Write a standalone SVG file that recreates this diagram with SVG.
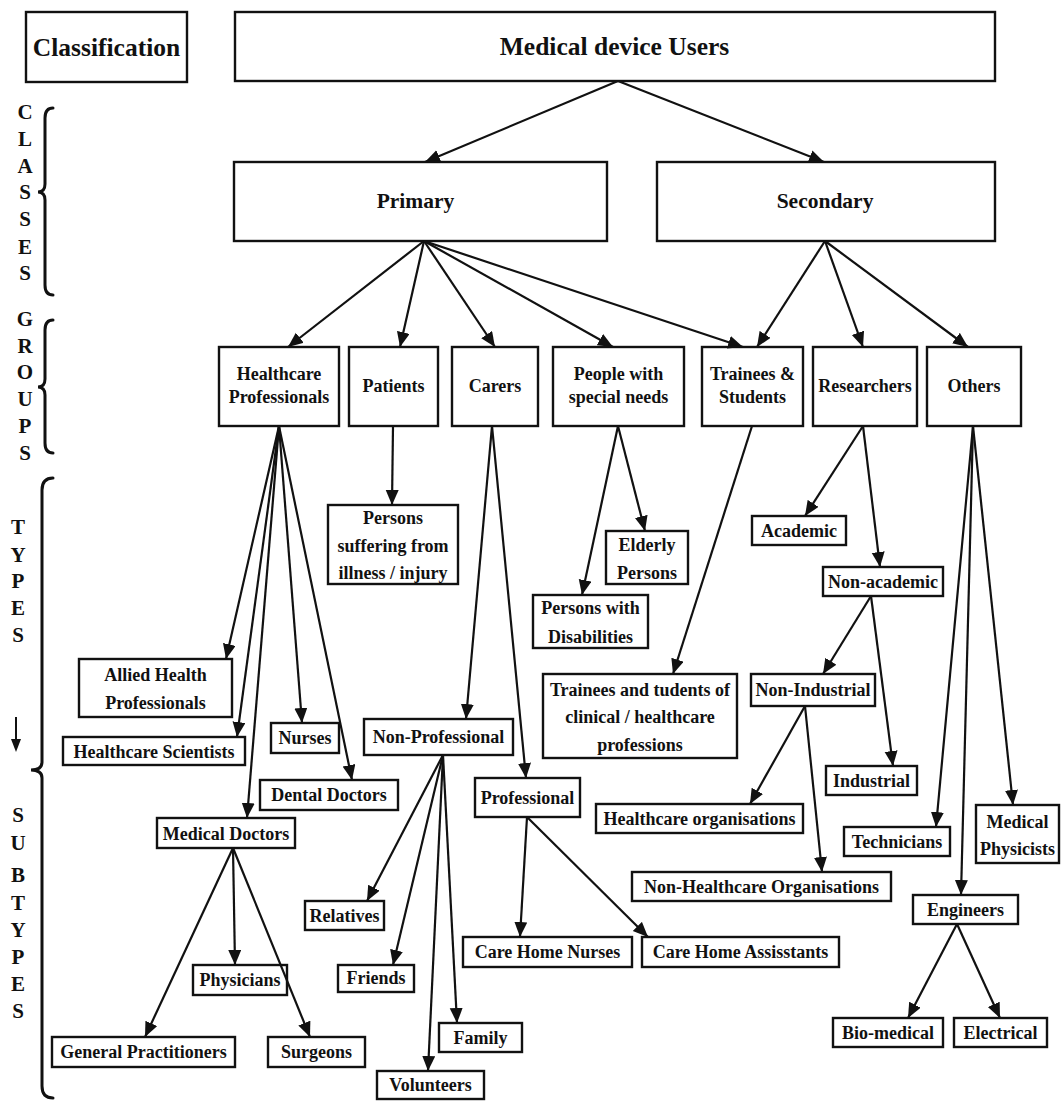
<svg xmlns="http://www.w3.org/2000/svg" width="1062" height="1101" viewBox="0 0 1062 1101">
<style>
.box{fill:#fff;stroke:#111;stroke-width:2.4}
.t{font-family:"Liberation Serif","Times New Roman",serif;font-weight:bold;font-size:18px;text-anchor:middle;fill:#111}
.big{font-size:25.5px}
.mid{font-size:21.5px}
.side{font-family:"Liberation Serif","Times New Roman",serif;font-weight:bold;font-size:21px;text-anchor:middle;fill:#111}
.brace{fill:none;stroke:#111;stroke-width:3;stroke-linecap:round}
#connectors line{stroke:#111;stroke-width:2.2;marker-end:url(#ah)}
</style>
<defs>
<marker id="ah" markerUnits="userSpaceOnUse" markerWidth="16" markerHeight="14" refX="15" refY="6.5" orient="auto">
<path d="M0,0 L15,6.5 L0,13 z" fill="#111"/>
</marker>
</defs>
<rect width="1062" height="1101" fill="#fff"/>

<g id="sidebar">
<text class="side" x="25" y="119">C</text>
<text class="side" x="25" y="146">L</text>
<text class="side" x="25" y="173">A</text>
<text class="side" x="25" y="199">S</text>
<text class="side" x="25" y="226">S</text>
<text class="side" x="25" y="254">E</text>
<text class="side" x="25" y="280">S</text>
<path class="brace" d="M53,108 Q45,108 45,118 L45,184 Q45,192 38,192 Q45,192 45,200 L45,285 Q45,295 53,295"/>
<text class="side" x="25" y="326">G</text>
<text class="side" x="25" y="353">R</text>
<text class="side" x="25" y="379">O</text>
<text class="side" x="25" y="406">U</text>
<text class="side" x="25" y="433">P</text>
<text class="side" x="25" y="460">S</text>
<path class="brace" d="M53,320 Q45,320 45,330 L45,379 Q45,387 38,387 Q45,387 45,395 L45,443 Q45,453 53,453"/>
<text class="side" x="18" y="534">T</text>
<text class="side" x="18" y="562">Y</text>
<text class="side" x="18" y="588">P</text>
<text class="side" x="18" y="615">E</text>
<text class="side" x="18" y="642">S</text>
<line x1="16" y1="717" x2="16" y2="740" stroke="#111" stroke-width="2"/>
<path d="M11,739 L21,739 L16,752 z" fill="#111"/>
<text class="side" x="18" y="822">S</text>
<text class="side" x="18" y="850">U</text>
<text class="side" x="18" y="882">B</text>
<text class="side" x="18" y="910">T</text>
<text class="side" x="18" y="937">Y</text>
<text class="side" x="18" y="964">P</text>
<text class="side" x="18" y="991">E</text>
<text class="side" x="18" y="1018">S</text>
<path class="brace" d="M53,478 Q42,478 42,490 L42,762 Q42,770 31,770 Q42,770 42,778 L42,1086 Q42,1098 53,1098"/>
</g>

<g id="n-classification"><rect class="box" x="26" y="12" width="161" height="70"/><text class="t big" x="106.5" y="56">Classification</text></g>
<g id="n-users"><rect class="box" x="235" y="12" width="760" height="69"/><text class="t big" x="614.5" y="55">Medical device Users</text></g>
<g id="n-primary"><rect class="box" x="234" y="162" width="373" height="79"/><text class="t mid" x="415.5" y="208">Primary</text></g>
<g id="n-secondary"><rect class="box" x="657" y="162" width="338" height="79"/><text class="t mid" x="825" y="208">Secondary</text></g>

<g id="n-hp"><rect class="box" x="219" y="347" width="120" height="79"/><text class="t" x="279" y="380">Healthcare</text><text class="t" x="279" y="403">Professionals</text></g>
<g id="n-patients"><rect class="box" x="349" y="347" width="89" height="79"/><text class="t" x="393.5" y="392">Patients</text></g>
<g id="n-carers"><rect class="box" x="452" y="347" width="86" height="79"/><text class="t" x="495" y="392">Carers</text></g>
<g id="n-pwsn"><rect class="box" x="553" y="347" width="131" height="79"/><text class="t" x="618.5" y="380">People with</text><text class="t" x="618.5" y="403">special needs</text></g>
<g id="n-trainees"><rect class="box" x="702" y="347" width="101" height="79"/><text class="t" x="752.5" y="380">Trainees &amp;</text><text class="t" x="752.5" y="403">Students</text></g>
<g id="n-researchers"><rect class="box" x="813" y="347" width="104" height="79"/><text class="t" x="865" y="392">Researchers</text></g>
<g id="n-others"><rect class="box" x="927" y="347" width="94" height="79"/><text class="t" x="974" y="392">Others</text></g>

<g id="n-allied"><rect class="box" x="79" y="659" width="153" height="58"/><text class="t" x="155.5" y="681">Allied Health</text><text class="t" x="155.5" y="709">Professionals</text></g>
<g id="n-hcsci"><rect class="box" x="63" y="737" width="182" height="28"/><text class="t" x="154" y="758">Healthcare Scientists</text></g>
<g id="n-md"><rect class="box" x="157" y="818" width="138" height="30"/><text class="t" x="226" y="840">Medical Doctors</text></g>
<g id="n-nurses"><rect class="box" x="271" y="723" width="68" height="30"/><text class="t" x="305" y="744">Nurses</text></g>
<g id="n-dental"><rect class="box" x="260" y="780" width="138" height="30"/><text class="t" x="329" y="801">Dental Doctors</text></g>
<g id="n-physicians"><rect class="box" x="193" y="965" width="94" height="30"/><text class="t" x="240" y="986">Physicians</text></g>
<g id="n-gp"><rect class="box" x="52" y="1037" width="183" height="30"/><text class="t" x="143.5" y="1058">General Practitioners</text></g>
<g id="n-surgeons"><rect class="box" x="268" y="1037" width="97" height="30"/><text class="t" x="316.5" y="1058">Surgeons</text></g>

<g id="n-suffering"><rect class="box" x="328" y="505" width="130" height="79"/><text class="t" x="393" y="524">Persons</text><text class="t" x="393" y="552">suffering from</text><text class="t" x="393" y="579">illness / injury</text></g>

<g id="n-nonprof"><rect class="box" x="364" y="719" width="149" height="36"/><text class="t" x="438.5" y="743">Non-Professional</text></g>
<g id="n-prof"><rect class="box" x="475" y="778" width="105" height="39"/><text class="t" x="527.5" y="804">Professional</text></g>
<g id="n-relatives"><rect class="box" x="305" y="901" width="79" height="29"/><text class="t" x="344.5" y="922">Relatives</text></g>
<g id="n-friends"><rect class="box" x="338" y="965" width="76" height="27"/><text class="t" x="376" y="984">Friends</text></g>
<g id="n-volunteers"><rect class="box" x="377" y="1071" width="107" height="28"/><text class="t" x="430.5" y="1091">Volunteers</text></g>
<g id="n-family"><rect class="box" x="439" y="1023" width="83" height="29"/><text class="t" x="480.5" y="1044">Family</text></g>
<g id="n-chn"><rect class="box" x="463" y="937" width="169" height="30"/><text class="t" x="547.5" y="958">Care Home Nurses</text></g>
<g id="n-cha"><rect class="box" x="642" y="937" width="197" height="30"/><text class="t" x="740.5" y="958">Care Home Assisstants</text></g>

<g id="n-elderly"><rect class="box" x="606" y="531" width="82" height="53"/><text class="t" x="647" y="551">Elderly</text><text class="t" x="647" y="579">Persons</text></g>
<g id="n-disab"><rect class="box" x="533" y="595" width="115" height="53"/><text class="t" x="590.5" y="614">Persons with</text><text class="t" x="590.5" y="643">Disabilities</text></g>
<g id="n-tstud"><rect class="box" x="543" y="674" width="194" height="84"/><text class="t" x="640" y="696">Trainees and tudents of</text><text class="t" x="640" y="723">clinical / healthcare</text><text class="t" x="640" y="751">professions</text></g>

<g id="n-academic"><rect class="box" x="752" y="516" width="94" height="29"/><text class="t" x="799" y="537">Academic</text></g>
<g id="n-nonacad"><rect class="box" x="823" y="567" width="120" height="29"/><text class="t" x="883" y="588">Non-academic</text></g>
<g id="n-nonind"><rect class="box" x="751" y="674" width="124" height="32"/><text class="t" x="813" y="696">Non-Industrial</text></g>
<g id="n-industrial"><rect class="box" x="826" y="766" width="91" height="29"/><text class="t" x="871.5" y="787">Industrial</text></g>
<g id="n-hcorg"><rect class="box" x="596" y="804" width="207" height="29"/><text class="t" x="699.5" y="825">Healthcare organisations</text></g>
<g id="n-nonhcorg"><rect class="box" x="632" y="872" width="259" height="29"/><text class="t" x="761.5" y="893">Non-Healthcare Organisations</text></g>

<g id="n-tech"><rect class="box" x="844" y="827" width="106" height="29"/><text class="t" x="897" y="848">Technicians</text></g>
<g id="n-medphys"><rect class="box" x="976" y="805" width="83" height="58"/><text class="t" x="1017.5" y="828">Medical</text><text class="t" x="1017.5" y="855">Physicists</text></g>
<g id="n-engineers"><rect class="box" x="913" y="895" width="105" height="29"/><text class="t" x="965.5" y="916">Engineers</text></g>
<g id="n-biomed"><rect class="box" x="833" y="1018" width="110" height="29"/><text class="t" x="888" y="1039">Bio-medical</text></g>
<g id="n-electrical"><rect class="box" x="954" y="1018" width="93" height="29"/><text class="t" x="1000.5" y="1039">Electrical</text></g>

<g id="connectors">
<line x1="618" y1="81" x2="425" y2="162"/>
<line x1="618" y1="81" x2="824" y2="162"/>
<line x1="424" y1="241" x2="288" y2="347"/>
<line x1="424" y1="241" x2="400" y2="347"/>
<line x1="424" y1="241" x2="495" y2="347"/>
<line x1="424" y1="241" x2="613" y2="347"/>
<line x1="424" y1="241" x2="743" y2="347"/>
<line x1="825" y1="241" x2="757" y2="347"/>
<line x1="825" y1="241" x2="863" y2="347"/>
<line x1="825" y1="241" x2="968" y2="347"/>
<line x1="279" y1="426" x2="226" y2="659"/>
<line x1="279" y1="426" x2="237" y2="737"/>
<line x1="279" y1="426" x2="247" y2="818"/>
<line x1="279" y1="426" x2="302" y2="723"/>
<line x1="279" y1="426" x2="352" y2="780"/>
<line x1="233" y1="848" x2="235" y2="965"/>
<line x1="233" y1="848" x2="145" y2="1037"/>
<line x1="233" y1="848" x2="310" y2="1037"/>
<line x1="393" y1="426" x2="392" y2="505"/>
<line x1="492" y1="426" x2="466" y2="719"/>
<line x1="492" y1="426" x2="526" y2="778"/>
<line x1="443" y1="755" x2="367" y2="901"/>
<line x1="443" y1="755" x2="393" y2="965"/>
<line x1="443" y1="755" x2="428" y2="1071"/>
<line x1="443" y1="755" x2="457" y2="1023"/>
<line x1="527" y1="817" x2="520" y2="937"/>
<line x1="527" y1="817" x2="648" y2="937"/>
<line x1="618" y1="426" x2="645" y2="531"/>
<line x1="618" y1="426" x2="582" y2="595"/>
<line x1="752" y1="426" x2="673" y2="674"/>
<line x1="863" y1="426" x2="805" y2="516"/>
<line x1="863" y1="426" x2="880" y2="567"/>
<line x1="871" y1="596" x2="823" y2="674"/>
<line x1="871" y1="596" x2="893" y2="766"/>
<line x1="805" y1="706" x2="750" y2="804"/>
<line x1="805" y1="706" x2="822" y2="872"/>
<line x1="973" y1="426" x2="936" y2="827"/>
<line x1="973" y1="426" x2="1013" y2="805"/>
<line x1="973" y1="426" x2="961" y2="895"/>
<line x1="957" y1="924" x2="908" y2="1018"/>
<line x1="957" y1="924" x2="1000" y2="1018"/>
</g>
</svg>
